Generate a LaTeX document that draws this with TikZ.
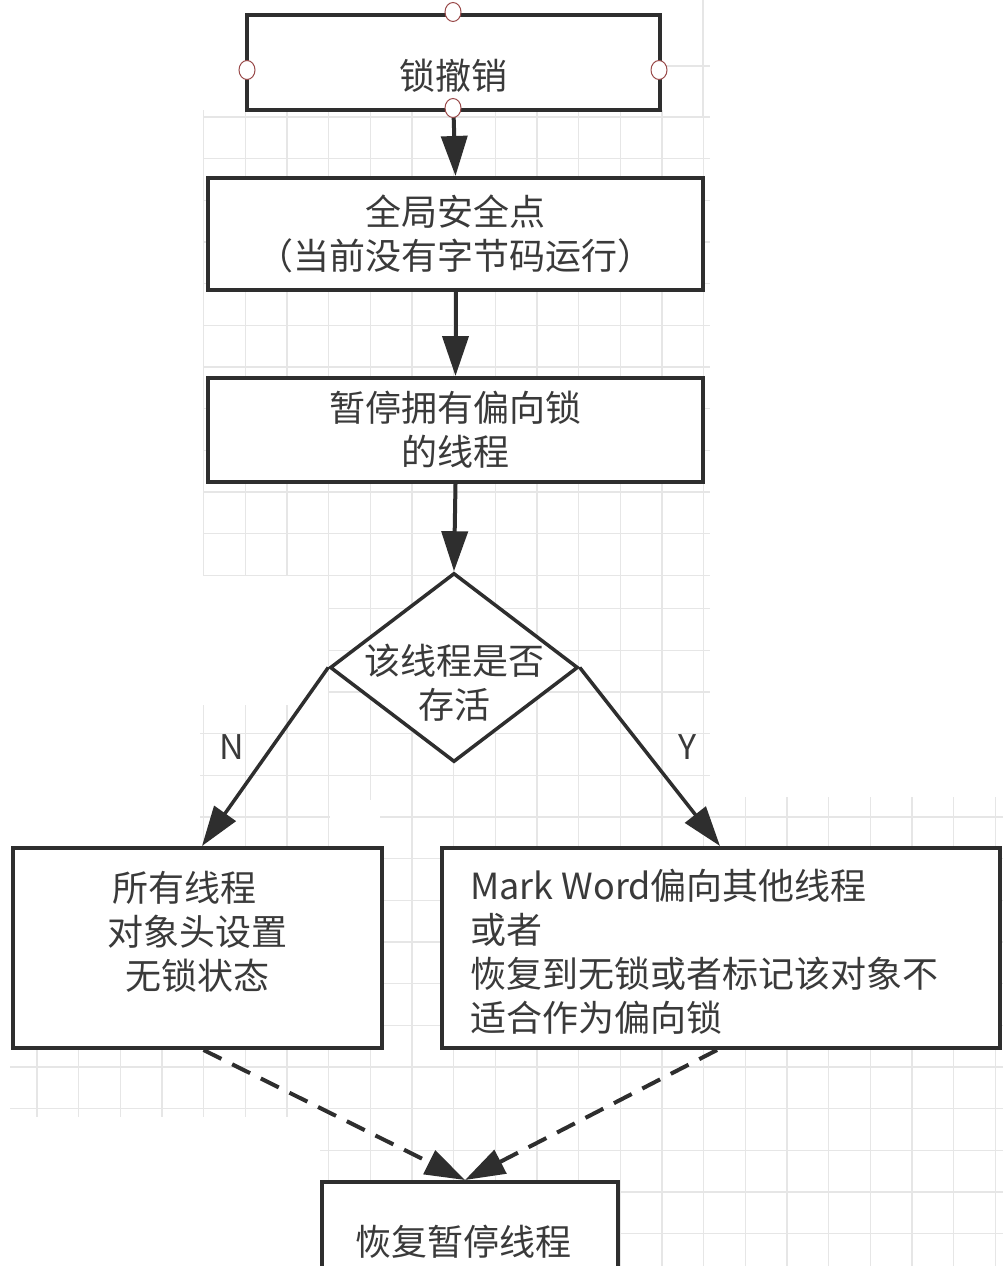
\documentclass[tikz,border=0pt]{standalone}
\usepackage{fontspec}
\newfontfamily\cjk{Noto Sans CJK SC}
\usetikzlibrary{arrows.meta,shapes.geometric}
\definecolor{lc}{HTML}{2E2E2E}
\definecolor{tc}{HTML}{3A3A3A}
\definecolor{gc}{HTML}{E6E6E6}
\definecolor{hc}{HTML}{9A4A4A}
\newcommand\gridpatch[5]{%
  \begin{scope}
    \clip (#1,#2) rectangle (#3,#4);
    \foreach \k in {0,...,24} \draw[gl] ({37+41.667*\k},#2) -- ({37+41.667*\k},#4);
    \foreach \k in {0,...,31} \draw[gl] (#1,{#5+41.667*\k}) -- (#3,{#5+41.667*\k});
  \end{scope}}
\begin{document}
\begin{tikzpicture}[x=1pt,y=-1pt,
  box/.style={draw=lc, line width=4pt, fill=white, rectangle, inner sep=0pt},
  txt/.style={font=\cjk\fontsize{36}{44}\selectfont, text=tc, inner sep=0pt, align=center},
  arr/.style={draw=lc, line width=4pt, -{Triangle[length=40pt,width=26pt]}},
  darr/.style={arr, dash pattern=on 20pt off 12pt},
  gl/.style={draw=gc, line width=1.5pt},
  handle/.style={ellipse, draw=hc, line width=1pt, fill=white, minimum width=16pt, minimum height=19pt, inner sep=0pt}]
\useasboundingbox (0,0) rectangle (1003,1266);
\clip (0,0) rectangle (1003,1266);
\fill[white] (0,0) rectangle (1003,1266);
% background grid patches
\begin{scope}
  \draw[gl] (703,0) -- (703,117);
  \draw[gl] (662,66) -- (710,66);
\end{scope}
\gridpatch{203}{110}{710}{575}{33.67}
\gridpatch{328}{575}{710}{800}{25.33}
\gridpatch{200}{705}{330}{848}{25.33}
\gridpatch{380}{797}{1003}{1117}{25.33}
\gridpatch{10}{1048}{1003}{1117}{25.33}
\gridpatch{320}{1117}{1003}{1266}{25.33}
% nodes
\node[box, minimum width=413pt, minimum height=95pt] (b0) at (453.5,62.5) {};
\node[txt] (t0) at (453,76) {锁撤销};
\node[box, txt, minimum width=495pt, minimum height=112pt] (b1) at (455.5,234) {全局安全点\\（当前没有字节码运行）};
\node[box, txt, minimum width=495pt, minimum height=104pt] (b2) at (455.5,430) {暂停拥有偏向锁\\的线程};
\node[diamond, draw=lc, line width=3.5pt, fill=white, minimum width=248pt, minimum height=189pt, inner sep=0pt] (d) at (454,667.5) {};
\node[txt] (dt) at (454,683) {该线程是否\\存活};
\node[box, minimum width=369pt, minimum height=200pt] (b3) at (197.5,948) {};
\node[txt] (t3) at (197,931.5) {所有线程\kern26pt\\对象头设置\\无锁状态};
\node[box, minimum width=558pt, minimum height=200pt] (b4) at (721,948) {};
\node[txt, align=left, anchor=west] (t4) at (470,952) {Mark Word偏向其他线程\\或者\\恢复到无锁或者标记该对象不\\适合作为偏向锁};
\node[box, minimum width=296pt, minimum height=120pt] (b5) at (470,1242) {};
\node[txt] (t5) at (463,1242) {恢复暂停线程};
\node[txt, font=\cjk\fontsize{34}{40}\selectfont] (ln) at (232,747) {N};
\node[txt, font=\cjk\fontsize{34}{40}\selectfont] (ly) at (688,747) {Y};
% connectors
\draw[arr] (b0.south) -- (b1.north);
\draw[arr] (b1.south) -- (b2.north);
\draw[arr] (b2.south) -- (d.north);
\draw[arr, line width=3.5pt] (d.west) -- ([xshift=4.5pt]b3.north);
\draw[arr, line width=3.5pt] (d.east) -- ([xshift=-1pt]b4.north);
\draw[darr] ([xshift=6pt]b3.south) -- ([xshift=-5pt]b5.north);
\draw[darr] ([xshift=-4pt]b4.south) -- ([xshift=-5pt]b5.north);
% connection handles on the first box
\node[handle] (h1) at (453,12) {};
\node[handle] (h2) at (247,70) {};
\node[handle] (h3) at (659,70) {};
\node[handle] (h4) at (453,108) {};
\end{tikzpicture}
\end{document}
